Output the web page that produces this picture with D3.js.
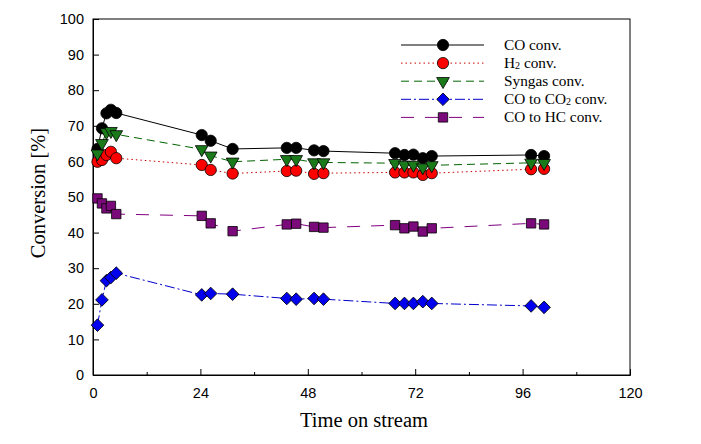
<!DOCTYPE html>
<html><head><meta charset="utf-8">
<script src="https://cdn.jsdelivr.net/npm/d3@7"></script>
<style>body{margin:0;background:#fff}svg{display:block}</style>
</head><body>
<script>
const times = [1,2,3,4,5.2,24.3,26.3,31.2,43.3,45.4,49.4,51.5,67.5,69.6,71.6,73.7,75.7,97.9,100.8];
const coConv  = [63.5,69.3,73.5,74.5,73.6,67.4,65.8,63.5,63.8,63.8,63.1,62.9,62.3,61.8,61.9,60.9,61.5,61.8,61.5];
const h2Conv  = [59.9,60.4,61.8,62.7,60.9,59.0,57.6,56.6,57.3,57.4,56.5,56.7,56.9,56.9,56.9,56.2,56.7,57.8,57.9];
const syngasConv = [62.2,65.1,68.2,68.5,67.6,63.4,61.6,59.9,60.6,60.6,59.7,59.7,59.5,59.0,59.0,58.3,58.9,59.6,59.5];
const co2Conv = [14.0,21.1,26.5,27.4,28.6,22.5,22.9,22.7,21.5,21.3,21.5,21.3,20.1,20.1,20.1,20.6,20.1,19.4,19.0];
const hcConv  = [49.6,48.2,46.8,47.5,45.2,44.7,42.6,40.4,42.3,42.5,41.6,41.4,42.1,41.2,41.7,40.3,41.2,42.6,42.3];
const xTicks = [0,24,48,72,96,120];
const yTicks = [0,10,20,30,40,50,60,70,80,90,100];

const series = [
  {name:"CO conv.", values:coConv, color:"#000000", fill:"#000000", dash:null, symbol:d3.symbolCircle, size:100},
  {name:"H2 conv.", values:h2Conv, color:"#cc0000", fill:"#ff0000", dash:"1.5,3", symbol:d3.symbolCircle, size:100},
  {name:"Syngas conv.", values:syngasConv, color:"#006400", fill:"#1a7a1a", dash:"8,5", symbol:d3.symbolTriangle, size:70, rot:180},
  {name:"CO to CO2 conv.", values:co2Conv, color:"#0000cc", fill:"#0000ee", dash:"10,3,2,3", symbol:d3.symbolSquare, size:80, rot:45},
  {name:"CO to HC conv.", values:hcConv, color:"#800080", fill:"#7a0a7a", dash:"13,11", symbol:d3.symbolSquare, size:88}
];

const W = 701, H = 444;
const svg = d3.select("body").append("svg").attr("width", W).attr("height", H);
const x = d3.scaleLinear().domain([0,120]).range([93,630]);
const y = d3.scaleLinear().domain([0,100]).range([375,19]);

svg.append("rect").attr("x",93).attr("y",19).attr("width",537).attr("height",356)
  .attr("fill","none").attr("stroke","#000").attr("stroke-width",1);

svg.append("g").attr("transform","translate(0,375)")
  .call(d3.axisBottom(x).tickValues(xTicks).tickSize(-6).tickPadding(13).tickFormat(d3.format("d")));
svg.append("g").attr("transform","translate(0,375)")
  .call(d3.axisBottom(x).tickValues(d3.range(12,120,24)).tickSize(-3).tickFormat(""))
  .call(g=>g.select(".domain").remove());
svg.append("g").attr("transform","translate(93,0)")
  .call(d3.axisLeft(y).tickValues(yTicks).tickSize(-6).tickPadding(9));
svg.selectAll(".tick text").attr("font-family","Liberation Sans, Arial, sans-serif").attr("font-size",14.5).attr("fill","#000");
svg.selectAll(".domain").attr("stroke","#000");

svg.append("text").attr("x",364).attr("y",427).attr("text-anchor","middle")
  .attr("font-family","Liberation Serif, Times New Roman, serif").attr("font-size",20.5).text("Time on stream");
svg.append("text").attr("transform","translate(45,193) rotate(-90)").attr("text-anchor","middle")
  .attr("font-family","Liberation Serif, Times New Roman, serif").attr("font-size",20.5).text("Conversion [%]");

const line = d3.line().x((d,i)=>x(times[i])).y(d=>y(d));
function marker(g, s, px, py){
  g.append("path").attr("d", d3.symbol().type(s.symbol).size(s.size)())
    .attr("transform",`translate(${px},${py}) rotate(${s.rot||0})`)
    .attr("fill",s.fill).attr("stroke","#000").attr("stroke-width",0.8);
}
series.forEach(s=>{
  svg.append("path").attr("d", line(s.values)).attr("fill","none")
    .attr("stroke",s.color).attr("stroke-width",1).attr("stroke-dasharray",s.dash);
});
series.forEach(s=>{
  const g = svg.append("g");
  s.values.forEach((v,i)=>marker(g,s,x(times[i]),y(v)));
});

const labels = [
  [["CO conv.",0]],
  [["H",0],["2",1],[" conv.",0]],
  [["Syngas conv.",0]],
  [["CO to CO",0],["2",1],[" conv.",0]],
  [["CO to HC conv.",0]]
];
series.forEach((s,i)=>{
  const ly = 45 + i*18.1;
  const g = svg.append("g");
  g.append("line").attr("x1",401).attr("x2",484).attr("y1",ly).attr("y2",ly)
    .attr("stroke",s.color).attr("stroke-width",1).attr("stroke-dasharray",s.dash);
  marker(g,s,443,ly);
  const t = g.append("text").attr("x",504).attr("y",ly+5)
    .attr("font-family","Liberation Serif, Times New Roman, serif").attr("font-size",15.3).attr("fill","#000");
  labels[i].forEach(([txt,sub])=>{
    const ts = t.append("tspan").text(txt);
    if(sub) ts.attr("font-size",10).attr("dy",1);
    else if(labels[i].length>1 && txt.startsWith(" ")) ts.attr("dy",-1);
  });
});
</script>
</body></html>
